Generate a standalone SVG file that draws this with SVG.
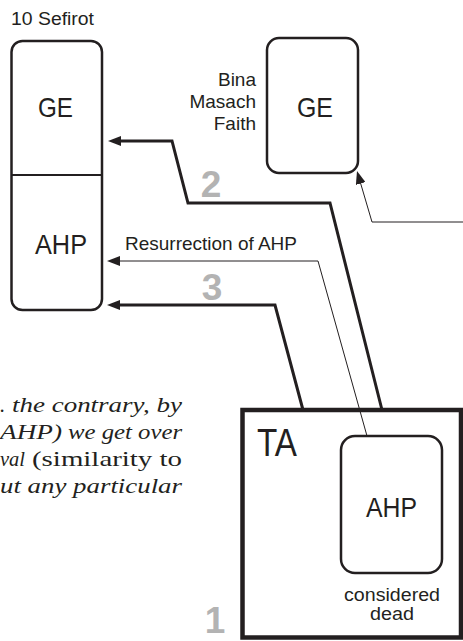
<svg xmlns="http://www.w3.org/2000/svg" width="463" height="641" viewBox="0 0 463 641">
<style>
.sans{font-family:"Liberation Sans",Arial,sans-serif;fill:#231f20}
.box{fill:#fff;stroke:#231f20;stroke-width:2.5}
.thick{fill:none;stroke:#231f20;stroke-width:3}
.thin{fill:none;stroke:#231f20;stroke-width:1}
.num{font-family:"Liberation Sans",Arial,sans-serif;font-weight:bold;font-size:37px;fill:#b3b3b3;text-anchor:middle}
.ser{font-family:"Liberation Serif","Times New Roman",serif;font-size:21px;fill:#231f20}
</style>
<defs>
<marker id="ah" viewBox="0 0 13 10" refX="7" refY="5" markerWidth="13" markerHeight="10" markerUnits="userSpaceOnUse" orient="auto-start-reverse">
<path d="M0,0 L13,5 L0,10 z" fill="#231f20"/>
</marker>
</defs>
<rect width="463" height="641" fill="#fff"/>

<g id="sefirot">
<text class="sans" x="11" y="25" font-size="18" textLength="83" lengthAdjust="spacingAndGlyphs">10 Sefirot</text>
<rect class="box" x="11.5" y="41" width="90.5" height="269" rx="11"/>
<line x1="11.5" y1="175" x2="102" y2="175" stroke="#231f20" stroke-width="2"/>
<text class="sans" x="38" y="117" font-size="28" textLength="35" lengthAdjust="spacingAndGlyphs">GE</text>
<text class="sans" x="35" y="254" font-size="28" textLength="52" lengthAdjust="spacingAndGlyphs">AHP</text>
</g>

<g id="ge-bina">
<rect class="box" x="267" y="38" width="91" height="135" rx="12"/>
<text class="sans" x="297" y="117" font-size="28" textLength="36" lengthAdjust="spacingAndGlyphs">GE</text>
<text class="sans" font-size="19" text-anchor="end"><tspan x="256" y="86">Bina</tspan><tspan x="256" y="108">Masach</tspan><tspan x="256" y="130">Faith</tspan></text>
</g>

<g id="ta">
<rect x="242.5" y="410" width="218.5" height="227.5" fill="none" stroke="#231f20" stroke-width="4.5"/>
<text class="sans" x="257" y="456" font-size="38" textLength="40" lengthAdjust="spacingAndGlyphs">TA</text>
<rect class="box" x="341" y="436" width="101" height="137" rx="14"/>
<text class="sans" x="366" y="517" font-size="28" textLength="51" lengthAdjust="spacingAndGlyphs">AHP</text>
<text class="sans" x="344" y="601" font-size="17.5" textLength="96" lengthAdjust="spacingAndGlyphs">considered</text>
<text class="sans" x="370" y="620" font-size="17.5" textLength="44" lengthAdjust="spacingAndGlyphs">dead</text>
</g>

<g id="connectors">
<path class="thick" d="M114,141 L172,141 L188,203 L330,203 L382,410" marker-start="url(#ah)"/>
<path class="thick" d="M113,305 L275,305 L303,410" marker-start="url(#ah)"/>
<path class="thin" d="M113,261 L318,261 L367,436" marker-start="url(#ah)"/>
<path class="thin" d="M463,222 L372,222 L358.7,176.8" marker-end="url(#ah)"/>
<text class="sans" x="125" y="250" font-size="18.5" textLength="172" lengthAdjust="spacingAndGlyphs">Resurrection of AHP</text>
</g>

<g id="steps">
<text class="num" x="211" y="197">2</text>
<text class="num" x="212" y="300">3</text>
<text class="num" x="215" y="633">1</text>
</g>

<g id="paragraph">
<text class="ser" font-style="italic" x="0" y="412">.</text>
<text class="ser" font-style="italic" x="12" y="412" textLength="170" lengthAdjust="spacingAndGlyphs">the contrary, by</text>
<text class="ser" font-style="italic" x="0" y="439" textLength="62" lengthAdjust="spacingAndGlyphs">AHP)</text>
<text class="ser" font-style="italic" x="68" y="439" textLength="114" lengthAdjust="spacingAndGlyphs">we get over</text>
<text class="ser" font-style="italic" x="0" y="466" textLength="25" lengthAdjust="spacingAndGlyphs">val</text>
<text class="ser" x="32" y="466" textLength="150" lengthAdjust="spacingAndGlyphs">(similarity to</text>
<text class="ser" font-style="italic" x="0" y="493" textLength="182" lengthAdjust="spacingAndGlyphs">ut any particular</text>
</g>
</svg>
